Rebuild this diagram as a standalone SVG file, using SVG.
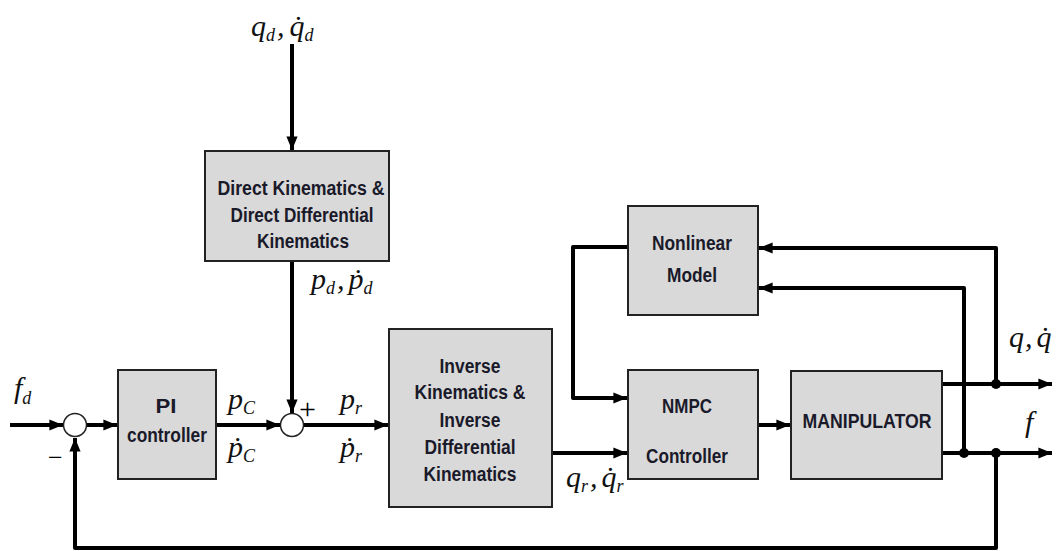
<svg xmlns="http://www.w3.org/2000/svg" width="1056" height="551" viewBox="0 0 1056 551">
  <style>
    .box { fill: #d9d9d9; stroke: #222; stroke-width: 2; }
    .lbl { font-family: "Liberation Sans", Arial, sans-serif; font-weight: bold; font-size: 20px; fill: #1a1a2a; text-anchor: middle; }
    .math { font-family: "Liberation Serif", "Times New Roman", serif; font-style: italic; font-size: 30px; fill: #111; }
    .sub { font-size: 18px; }
    .arr { fill: none; stroke: #000; stroke-width: 4; stroke-linejoin: round; marker-end: url(#head); }
    .sum { fill: #fff; stroke: #222; stroke-width: 1.5; }
    .dot { fill: #000; }
  </style>
  <defs>
    <marker id="head" markerWidth="4" markerHeight="4" refX="3.4" refY="2" orient="auto" markerUnits="strokeWidth">
      <path d="M0,0.6 L3.4,2 L0,3.4 Z" fill="#000"/>
    </marker>
  </defs>

  <rect width="1056" height="551" fill="#fff"/>

  <!-- signal lines -->
  <g id="connectors">
    <line class="arr" x1="292" y1="44" x2="292" y2="150"/>
    <line class="arr" x1="292" y1="261" x2="292" y2="413"/>
    <line class="arr" x1="10" y1="425" x2="63" y2="425"/>
    <line class="arr" x1="86" y1="425" x2="117" y2="425"/>
    <line class="arr" x1="216" y1="425" x2="280" y2="425"/>
    <line class="arr" x1="303" y1="425" x2="388" y2="425"/>
    <line class="arr" x1="552" y1="453" x2="627" y2="453"/>
    <polyline class="arr" points="628,247 573,247 573,398 627,398"/>
    <line class="arr" x1="758" y1="425" x2="790" y2="425"/>
    <line class="arr" x1="942" y1="384" x2="1052" y2="384"/>
    <line class="arr" x1="942" y1="453" x2="1052" y2="453"/>
    <polyline class="arr" points="996,384 996,248 759,248"/>
    <polyline class="arr" points="964,453 964,288 759,288"/>
    <polyline class="arr" points="996,453 996,548 75,548 75,438"/>
    <circle class="dot" cx="996" cy="384" r="5"/>
    <circle class="dot" cx="964" cy="453" r="5"/>
    <circle class="dot" cx="996" cy="453" r="5"/>
  </g>

  <g id="sum1">
    <circle class="sum" cx="75" cy="425" r="11.5"/>
    <text x="48" y="466" style="font-family: 'Liberation Serif', serif; font-size: 26px;">−</text>
  </g>
  <g id="sum2">
    <circle class="sum" cx="292" cy="425" r="11.5"/>
    <text x="299" y="419" style="font-family: 'Liberation Serif', serif; font-size: 30px;">+</text>
  </g>

  <g id="direct-kinematics">
    <rect class="box" x="205" y="151" width="184" height="110"/>
    <text class="lbl" x="301" y="195" textLength="167" lengthAdjust="spacingAndGlyphs">Direct Kinematics &amp;</text>
    <text class="lbl" x="302" y="222" textLength="143" lengthAdjust="spacingAndGlyphs">Direct Differential</text>
    <text class="lbl" x="303" y="248" textLength="92" lengthAdjust="spacingAndGlyphs">Kinematics</text>
  </g>

  <g id="pi-controller">
    <rect class="box" x="118" y="370" width="98" height="109"/>
    <text class="lbl" x="166" y="413" textLength="21" lengthAdjust="spacingAndGlyphs">PI</text>
    <text class="lbl" x="167" y="442" textLength="80" lengthAdjust="spacingAndGlyphs">controller</text>
  </g>

  <g id="inverse-kinematics">
    <rect class="box" x="389" y="329" width="163" height="178"/>
    <text class="lbl" x="470" y="373" textLength="61" lengthAdjust="spacingAndGlyphs">Inverse</text>
    <text class="lbl" x="470" y="399" textLength="111" lengthAdjust="spacingAndGlyphs">Kinematics &amp;</text>
    <text class="lbl" x="470" y="427" textLength="61" lengthAdjust="spacingAndGlyphs">Inverse</text>
    <text class="lbl" x="470" y="454" textLength="91" lengthAdjust="spacingAndGlyphs">Differential</text>
    <text class="lbl" x="470" y="481" textLength="93" lengthAdjust="spacingAndGlyphs">Kinematics</text>
  </g>

  <g id="nonlinear-model">
    <rect class="box" x="628" y="206" width="130" height="109"/>
    <text class="lbl" x="692" y="250" textLength="80" lengthAdjust="spacingAndGlyphs">Nonlinear</text>
    <text class="lbl" x="692" y="282" textLength="50" lengthAdjust="spacingAndGlyphs">Model</text>
  </g>

  <g id="nmpc-controller">
    <rect class="box" x="628" y="370" width="130" height="109"/>
    <text class="lbl" x="687" y="413" textLength="50" lengthAdjust="spacingAndGlyphs">NMPC</text>
    <text class="lbl" x="687" y="463" textLength="82" lengthAdjust="spacingAndGlyphs">Controller</text>
  </g>

  <g id="manipulator">
    <rect class="box" x="791" y="371" width="151" height="108"/>
    <text class="lbl" x="867" y="428" textLength="129" lengthAdjust="spacingAndGlyphs">MANIPULATOR</text>
  </g>

  <!-- signal names -->
  <g id="signal-labels">
    <text class="math" x="251" y="36">q<tspan class="sub" dy="5">d</tspan><tspan dy="-5" dx="2">,</tspan><tspan dx="5">q̇</tspan><tspan class="sub" dy="5">d</tspan></text>
    <text class="math" x="311" y="289">p<tspan class="sub" dy="5">d</tspan><tspan dy="-5" dx="2">,</tspan><tspan dx="4">ṗ</tspan><tspan class="sub" dy="5">d</tspan></text>
    <text class="math" x="14" y="398">f<tspan class="sub" dy="6">d</tspan></text>
    <text class="math" x="228" y="409">p<tspan class="sub" dy="5">C</tspan></text>
    <text class="math" x="228" y="457">ṗ<tspan class="sub" dy="5">C</tspan></text>
    <text class="math" x="340" y="409">p<tspan class="sub" dy="5">r</tspan></text>
    <text class="math" x="340" y="457">ṗ<tspan class="sub" dy="5">r</tspan></text>
    <text class="math" x="566" y="487">q<tspan class="sub" dy="5">r</tspan><tspan dy="-5" dx="2">,</tspan><tspan dx="4">q̇</tspan><tspan class="sub" dy="5">r</tspan></text>
    <text class="math" x="1009" y="347">q<tspan dx="1">,</tspan><tspan dx="4">q̇</tspan></text>
    <text class="math" x="1025" y="432">f</text>
  </g>
</svg>
